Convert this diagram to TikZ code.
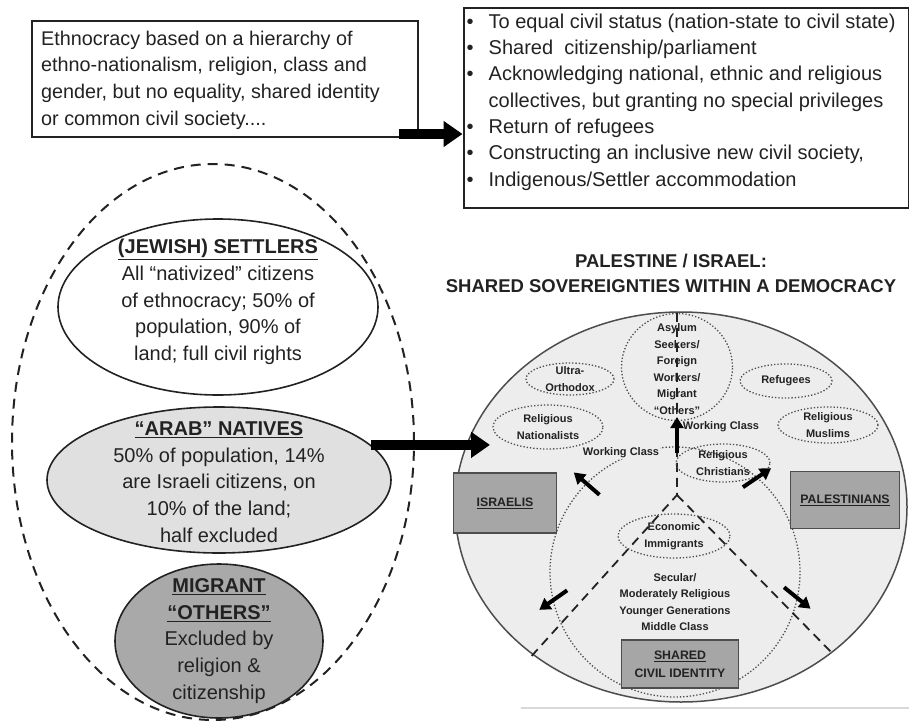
\documentclass[tikz,border=0pt]{standalone}
\usepackage{fontspec}
\setmainfont{Liberation Sans}
\usetikzlibrary{shapes.geometric,arrows.meta}
\definecolor{ink}{HTML}{222222}
\definecolor{rim}{HTML}{4D4D4D}
\definecolor{land}{HTML}{EDEDED}
\definecolor{nativefill}{HTML}{E0E0E0}
\definecolor{otherfill}{HTML}{A9A9A9}
\definecolor{platefill}{HTML}{A6A6A6}
\newcommand{\blt}{\makebox[22pt][l]{•}}

\tikzset{
  textbox/.style={draw=ink, line width=2pt, inner sep=0pt},
  boxtext/.style={align=left, inner sep=0pt, text=ink, font=\fontsize{20}{26.3}\selectfont},
  group/.style={ellipse, draw=ink, line width=1.6pt, inner sep=0pt},
  grouptext/.style={align=center, text=ink, font=\fontsize{20}{26.7}\selectfont},
  tag/.style={ellipse, draw=rim, dotted, line width=1.3pt, inner sep=0pt},
  tagtext/.style={align=center, text=ink, inner sep=1pt, font=\bfseries\fontsize{11}{16.5}\selectfont},
  plate/.style={draw=rim, fill=platefill, line width=1.5pt, inner sep=0pt, align=center, text=ink, font=\bfseries\fontsize{12.3}{18}\selectfont},
  bigarrow/.style={draw=black, line width=10pt, -{Triangle[length=19pt,width=25pt]}},
  pusharrow/.style={draw=black, line width=4pt, -{Triangle[length=11pt,width=13pt]}},
  fork/.style={draw=ink, dash pattern=on 9pt off 6pt, line width=1.8pt}
}

\begin{document}
\begin{tikzpicture}[x=1pt,y=-1pt]
  \useasboundingbox (0,0) rectangle (909,720);

  \node[textbox, minimum width=386pt, minimum height=116pt] (ethno) at (225,79) {};
  \node[boxtext, font=\fontsize{19.8}{26.7}\selectfont, anchor=west] (ethnotext) at ([xshift=10pt,yshift=-1pt]ethno.west) {Ethnocracy based on a hierarchy of\\ethno-nationalism, religion, class and\\gender, but no equality, shared identity\\or common civil society....};
  \node[textbox, minimum width=445pt, minimum height=200pt] (goals) at (686,108) {};
  \node[boxtext, anchor=west] (goalstext) at ([xshift=4pt,yshift=6pt]goals.west) {\blt To equal civil status (nation-state to civil state)\\\blt Shared\ \ citizenship/parliament\\\blt Acknowledging national, ethnic and religious\\\hspace*{22pt}collectives, but granting no special privileges\\\blt Return of refugees\\\blt Constructing an inclusive new civil society,\\\blt Indigenous/Settler accommodation};
  \coordinate (ethnotail) at ([xshift=-20pt,yshift=4pt]ethno.south east);
  \draw[bigarrow] (ethnotail) -- (ethnotail -| goals.west);

  \node[group, fill=white, minimum width=320pt, minimum height=176pt] (settlers) at (218,307) {};
  \node[grouptext] (settlerstext) at (218,302) {\textbf{\underline{(JEWISH) SETTLERS}}\\All “nativized” citizens\\of ethnocracy; 50\% of\\population, 90\% of\\land; full civil rights};
  \node[group, fill=nativefill, minimum width=344pt, minimum height=146pt] (natives) at (219,480) {};
  \node[grouptext] (nativestext) at (219,482) {\textbf{\underline{“ARAB” NATIVES}}\\50\% of population, 14\%\\are Israeli citizens, on\\10\% of the land;\\half excluded};
  \node[group, fill=otherfill, minimum width=208pt, minimum height=154pt] (others) at (219,641) {};
  \node[grouptext] (otherstext) at (others) {\textbf{\underline{MIGRANT}}\\\textbf{\underline{“OTHERS”}}\\Excluded by\\religion \&\\citizenship};
  \node[ellipse, draw=ink, line width=2pt, dash pattern=on 10pt off 7pt, inner sep=0pt, minimum width=402pt, minimum height=556pt] (state) at (213,442) {};

  \node[align=center, text=ink, font=\bfseries\fontsize{18.5}{25}\selectfont] (title) at (671,273) {PALESTINE / ISRAEL:\\SHARED SOVEREIGNTIES WITHIN A DEMOCRACY};
  \node[ellipse, draw=rim, fill=land, line width=1.5pt, inner sep=0pt, minimum width=452pt, minimum height=390pt] (country) at (681,507) {};
  \draw[black!15, line width=1.2pt] (country.south west |- 0,708) -- (909,708);

  \node[circle, draw=rim, dotted, line width=1.3pt, inner sep=0pt, outer sep=0pt, minimum size=250pt] (civil) at (675,572) {};
  \node[tag, minimum width=111pt, minimum height=107pt] (asylum) at (677,367) {};
  \coordinate (fork) at (asylum.north |- 0,495);
  \coordinate (westfoot) at (528,660);
  \coordinate (eastfoot) at (832,653);
  \draw[fork] (asylum.north) -- (fork) -- (westfoot);
  \draw[fork] (fork) -- (eastfoot);

  \node[tag, minimum width=88pt, minimum height=32pt] (ultra) at (570,379) {};
  \node[tagtext] (ultratext) at (ultra) {Ultra-\\Orthodox};
  \node[tag, minimum width=110pt, minimum height=44pt] (nationalists) at (548,427) {};
  \node[tagtext] (nationaliststext) at (nationalists) {Religious\\Nationalists};
  \node[tag, minimum width=92pt, minimum height=34pt] (refugees) at (786,381) {};
  \node[tagtext] (refugeestext) at (refugees) {Refugees};
  \node[tag, minimum width=100pt, minimum height=36pt] (muslims) at (828,425) {};
  \node[tagtext] (muslimstext) at (muslims) {Religious\\Muslims};
  \node[tag, minimum width=94pt, minimum height=38pt] (christians) at (723,463) {};
  \node[tagtext] (christianstext) at (christians) {Religious\\Christians};
  \node[tag, minimum width=112pt, minimum height=44pt] (economic) at (674,536) {};
  \node[tagtext] (economictext) at (economic) {Economic\\Immigrants};
  \node[tagtext] (asylumtext) at (677,369) {Asylum\\Seekers/\\Foreign\\Workers/\\Migrant\\“Others”};
  \node[tagtext, fill=land] (leftclass) at (621,453) {Working Class};
  \node[tagtext] (rightclass) at (721,427) {Working Class};
  \node[tagtext] (secular) at (675,602) {Secular/\\Moderately Religious\\Younger Generations\\Middle Class};

  \node[plate, minimum width=103pt, minimum height=60pt] (israelis) at (505,503) {\underline{ISRAELIS}};
  \node[plate, minimum width=109pt, minimum height=57pt] (palestinians) at (845,500) {\underline{PALESTINIANS}};
  \node[plate, minimum width=117pt, minimum height=48pt] (shared) at (680,664) {\underline{SHARED}\\CIVIL IDENTITY};

  \draw[pusharrow] (asylum.south |- 0,453) -- ([yshift=4pt]asylum.south);
  \foreach \ang/\dir in {135/139,49/34,193/215,-12/321}
    \draw[pusharrow] ([shift={(\dir:-17pt)}]civil.\ang) -- ([shift={(\dir:17pt)}]civil.\ang);

  \coordinate (nativesin) at (490,444);
  \draw[bigarrow] (natives.13) -- (natives.13 -| nativesin);
\end{tikzpicture}
\end{document}
